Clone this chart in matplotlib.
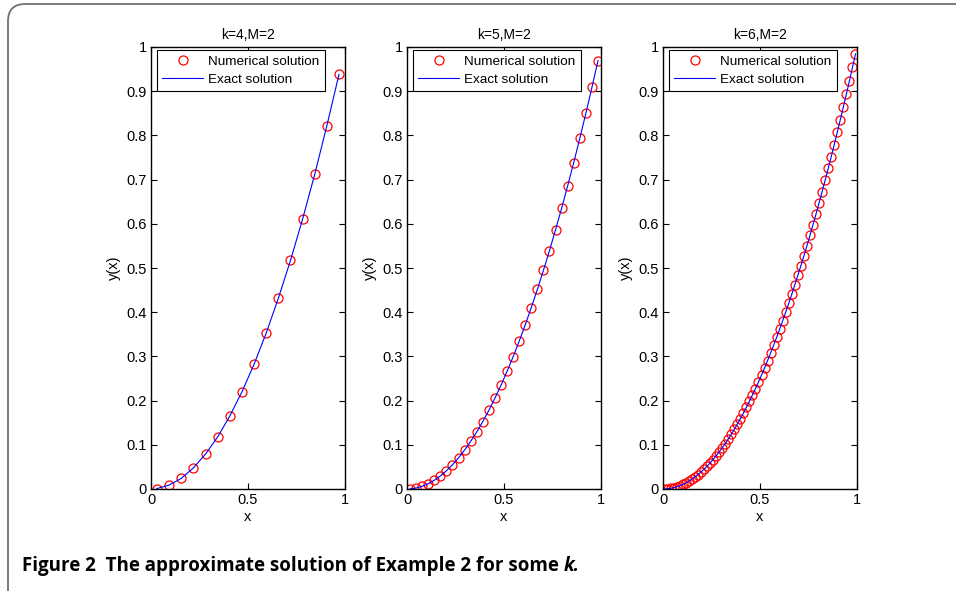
import matplotlib
matplotlib.use("Agg")
import matplotlib.pyplot as plt
from matplotlib.patches import FancyBboxPatch

plt.rcParams['font.family'] = ['Liberation Sans', 'DejaVu Sans']
plt.rcParams['font.size'] = 10.5

# k=4, M=2 (16 collocation points)
x_k4 = [0.031, 0.094, 0.156, 0.219, 0.281, 0.344, 0.406, 0.469,
        0.531, 0.594, 0.656, 0.719, 0.781, 0.844, 0.906, 0.969]
y_k4 = [0.001, 0.009, 0.024, 0.048, 0.079, 0.118, 0.165, 0.220,
        0.282, 0.353, 0.431, 0.517, 0.610, 0.712, 0.821, 0.938]

# k=5, M=2 (32 points)
x_k5 = [0.0156, 0.0469, 0.0781, 0.1094, 0.1406, 0.1719, 0.2031, 0.2344,
        0.2656, 0.2969, 0.3281, 0.3594, 0.3906, 0.4219, 0.4531, 0.4844,
        0.5156, 0.5469, 0.5781, 0.6094, 0.6406, 0.6719, 0.7031, 0.7344,
        0.7656, 0.7969, 0.8281, 0.8594, 0.8906, 0.9219, 0.9531, 0.9844]
y_k5 = [0.0002, 0.0022, 0.0061, 0.0120, 0.0198, 0.0295, 0.0413, 0.0549,
        0.0706, 0.0881, 0.1077, 0.1291, 0.1526, 0.1780, 0.2053, 0.2346,
        0.2659, 0.2991, 0.3342, 0.3713, 0.4104, 0.4514, 0.4944, 0.5393,
        0.5862, 0.6350, 0.6858, 0.7385, 0.7932, 0.8499, 0.9084, 0.9690]

# k=6, M=2 (64 points)
x_k6 = [0.0078, 0.0234, 0.0391, 0.0547, 0.0703, 0.0859, 0.1016, 0.1172,
        0.1328, 0.1484, 0.1641, 0.1797, 0.1953, 0.2109, 0.2266, 0.2422,
        0.2578, 0.2734, 0.2891, 0.3047, 0.3203, 0.3359, 0.3516, 0.3672,
        0.3828, 0.3984, 0.4141, 0.4297, 0.4453, 0.4609, 0.4766, 0.4922,
        0.5078, 0.5234, 0.5391, 0.5547, 0.5703, 0.5859, 0.6016, 0.6172,
        0.6328, 0.6484, 0.6641, 0.6797, 0.6953, 0.7109, 0.7266, 0.7422,
        0.7578, 0.7734, 0.7891, 0.8047, 0.8203, 0.8359, 0.8516, 0.8672,
        0.8828, 0.8984, 0.9141, 0.9297, 0.9453, 0.9609, 0.9766, 0.9922]
y_k6 = [0.0001, 0.0005, 0.0015, 0.0030, 0.0049, 0.0074, 0.0103, 0.0137,
        0.0176, 0.0220, 0.0269, 0.0323, 0.0381, 0.0445, 0.0513, 0.0587,
        0.0665, 0.0748, 0.0836, 0.0928, 0.1026, 0.1129, 0.1236, 0.1348,
        0.1466, 0.1588, 0.1714, 0.1846, 0.1983, 0.2125, 0.2271, 0.2422,
        0.2579, 0.2740, 0.2906, 0.3077, 0.3253, 0.3433, 0.3619, 0.3809,
        0.4005, 0.4205, 0.4410, 0.4620, 0.4835, 0.5054, 0.5279, 0.5508,
        0.5743, 0.5982, 0.6226, 0.6475, 0.6729, 0.6988, 0.7252, 0.7520,
        0.7794, 0.8072, 0.8355, 0.8643, 0.8936, 0.9234, 0.9537, 0.9844]

titles = ['k=4,M=2', 'k=5,M=2', 'k=6,M=2']
xs = [x_k4, x_k5, x_k6]
ys = [y_k4, y_k5, y_k6]

W, H = 956, 591
fig = plt.figure(figsize=(W / 100, H / 100), dpi=100)

# rounded frame of the figure box (open to the right and bottom)
frame = FancyBboxPatch((8 / W, -20 / H), 1.2, (H + 20 - 4) / H,
                       boxstyle="round,pad=0,rounding_size=0.018",
                       transform=fig.transFigure, fill=False,
                       edgecolor='#707070', linewidth=1.3,
                       mutation_aspect=W / H)
fig.patches.append(frame)

lefts = [151, 407, 663]
for left, title, x, y in zip(lefts, titles, xs, ys):
    ax = fig.add_axes([left / W, (H - 489) / H, 194 / W, (489 - 47) / H])
    ax.plot(x, y, 'o', mfc='none', mec='red', ms=6.5, mew=0.9,
            label='Numerical solution')
    ax.plot(x, y, '-', color='blue', lw=0.8, label='Exact solution')
    ax.set_xlim(0, 1)
    ax.set_ylim(0, 1)
    ax.set_xticks([0, 0.5, 1])
    ax.set_xticklabels(['0', '0.5', '1'])
    ax.set_yticks([i / 10 for i in range(11)])
    ax.set_yticklabels(['0'] + ['0.%d' % i for i in range(1, 10)] + ['1'])
    ax.tick_params(direction='in', top=True, right=True, length=4,
                   width=0.8, labelsize=10.5, pad=3)
    for s in ax.spines.values():
        s.set_linewidth(1.0)
    ax.set_title(title, fontsize=10, pad=6)
    ax.set_xlabel('x', fontsize=10.5, labelpad=2)
    ax.set_ylabel('y(x)', fontsize=10.5, labelpad=4)
    leg = ax.legend(loc='upper left', fontsize=9.7, fancybox=False,
                    edgecolor='black', framealpha=1,
                    bbox_to_anchor=((left + 6) / W, (H - 50) / H),
                    bbox_transform=fig.transFigure, borderaxespad=0,
                    handlelength=3.0, borderpad=0.4, labelspacing=0.4,
                    handletextpad=0.4)
    leg.get_frame().set_linewidth(0.8)

cap = fig.text(22 / W, 1 - 566 / H,
               'Figure 2  The approximate solution of Example 2 for some ',
               fontsize=13.5, fontweight='bold',
               family=['Open Sans', 'DejaVu Sans'], va='center', ha='left')
fig.canvas.draw()
bb = cap.get_window_extent()
fig.text(bb.x1 / W, 1 - 566 / H, 'k.', fontsize=13.5, fontweight='bold',
         style='italic', family=['Open Sans', 'DejaVu Sans'],
         va='center', ha='left')

fig.savefig('out.png', dpi=100)
